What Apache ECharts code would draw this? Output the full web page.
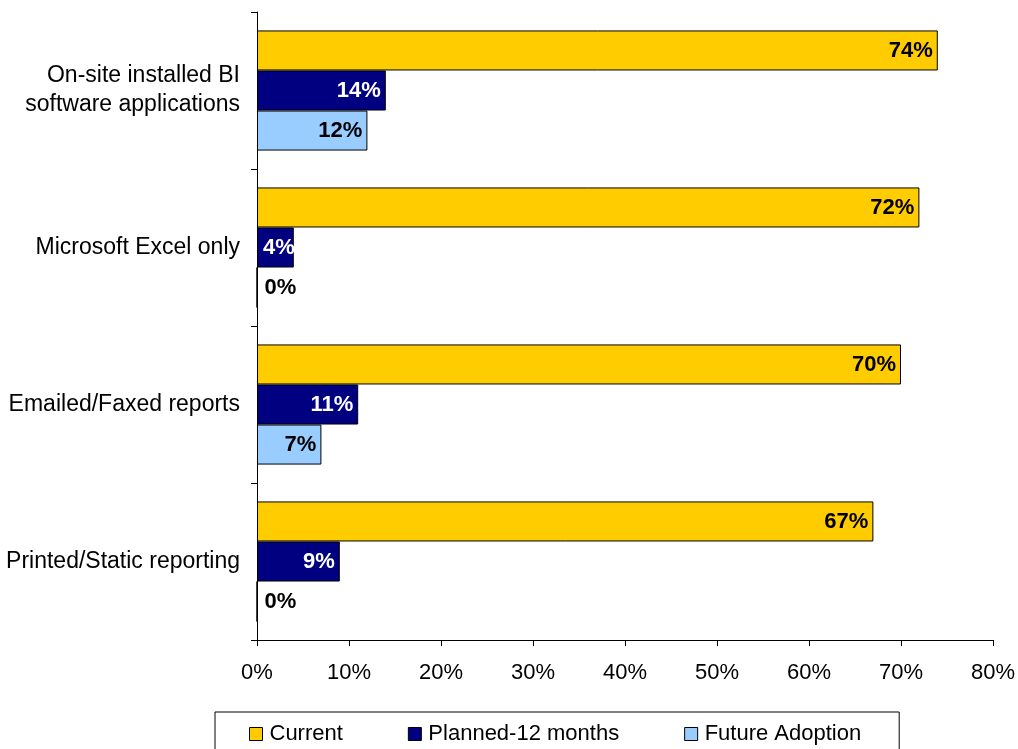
<!DOCTYPE html>
<html>
<head>
<meta charset="utf-8">
<script src="https://cdn.jsdelivr.net/npm/echarts@6/dist/echarts.min.js"></script>
<style>
  html, body { margin: 0; padding: 0; background: #fff; }
  #chart { width: 1018px; height: 749px; }
</style>
</head>
<body>
<div id="chart"></div>
<script>
// Reporting methods, top to bottom
const categories = [
  'On-site installed BI\nsoftware applications',
  'Microsoft Excel only',
  'Emailed/Faxed reports',
  'Printed/Static reporting'
];
const currentValues = [74, 72, 70, 67];
const plannedValues = [14, 4, 11, 9];
const futureValues = [12, 0, 7, 0];
const seriesNames = ['Current', 'Planned-12 months', 'Future Adoption'];
const seriesColors = ['#FFCC00', '#000080', '#99CCFF'];
const labelColors = ['#000', '#fff', '#000'];

const FONT = 'Liberation Sans, Arial, sans-serif';

function barItem(v) {
  // a zero bar has no room inside, so its label sits just right of the axis
  if (v === 0) return { value: v, label: { position: 'right', distance: 7, color: '#000' } };
  // very short bars start their label from the axis side
  if (v < 5) return { value: v, label: { position: 'insideLeft', distance: 6 } };
  return v;
}

function makeSeries(name, values, color, labelColor) {
  return {
    name: name,
    type: 'bar',
    barGap: '0%',
    barCategoryGap: '23.5%',
    itemStyle: { color: color, borderColor: '#000', borderWidth: 1 },
    label: {
      show: true,
      position: 'insideRight',
      distance: 5,
      color: labelColor,
      fontFamily: FONT,
      fontWeight: 'bold',
      fontSize: 22,
      formatter: p => p.value + '%'
    },
    data: values.map(barItem)
  };
}

const chart = echarts.init(document.getElementById('chart'), null, { renderer: 'canvas' });
chart.setOption({
  animation: false,
  backgroundColor: '#fff',
  grid: { left: 257, right: 22, top: 12, bottom: 109, containLabel: false },
  xAxis: {
    type: 'value',
    min: 0,
    max: 80,
    interval: 10,
    axisLine: { show: true, lineStyle: { color: '#000', width: 1 } },
    axisTick: { show: true, length: 6, lineStyle: { color: '#000' } },
    splitLine: { show: false },
    axisLabel: {
      color: '#000',
      fontFamily: FONT,
      fontSize: 22,
      margin: 22,
      formatter: v => v + '%'
    }
  },
  yAxis: {
    type: 'category',
    inverse: true,
    data: categories,
    axisLine: { show: true, lineStyle: { color: '#000', width: 1 } },
    axisTick: { show: true, length: 6, alignWithLabel: false, lineStyle: { color: '#000' } },
    axisLabel: {
      color: '#000',
      fontFamily: FONT,
      fontSize: 23,
      margin: 17,
      lineHeight: 29,
      align: 'right'
    }
  },
  legend: {
    left: 215,
    top: 712,
    padding: [11, 38, 22, 34],
    borderColor: '#000',
    borderWidth: 1,
    itemWidth: 13,
    itemHeight: 13,
    itemGap: 65,
    icon: 'rect',
    itemStyle: { borderColor: '#000', borderWidth: 1 },
    textStyle: { color: '#000', fontFamily: FONT, fontSize: 22, padding: [0, 0, 0, 2] },
    data: seriesNames
  },
  series: [
    makeSeries(seriesNames[0], currentValues, seriesColors[0], labelColors[0]),
    makeSeries(seriesNames[1], plannedValues, seriesColors[1], labelColors[1]),
    makeSeries(seriesNames[2], futureValues, seriesColors[2], labelColors[2])
  ]
});
</script>
</body>
</html>
